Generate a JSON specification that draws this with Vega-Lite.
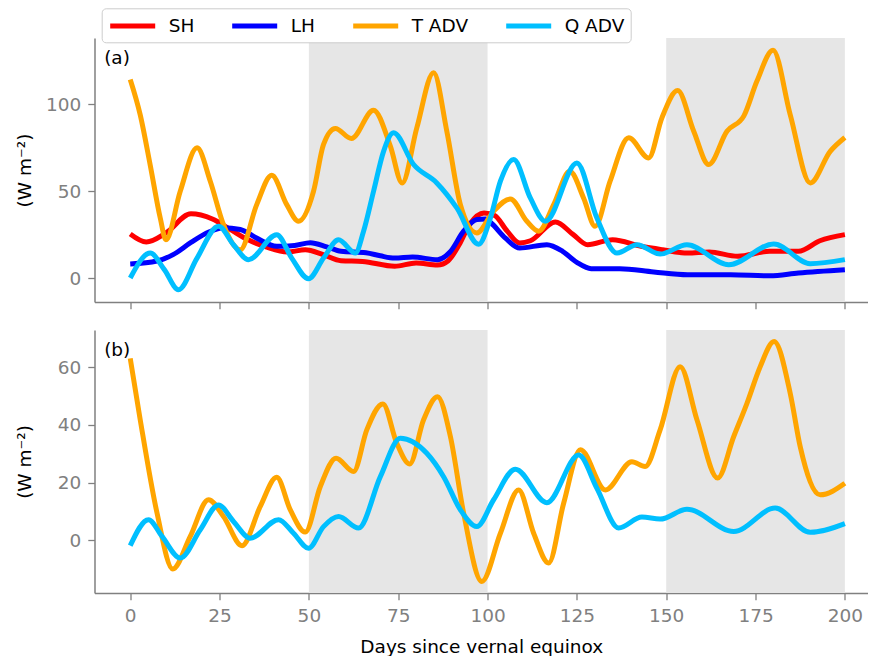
{
"$schema":"https://vega.github.io/schema/vega-lite/v6.json",
"padding":{"left":15.5,"top":7,"right":0,"bottom":0},
"config":{"font":"DejaVu Sans","view":{"stroke":null},"axis":{"grid":false,"domainColor":"#808080","domainWidth":1.5,"tickColor":"#808080","tickWidth":1.3,"tickSize":6.7,"labelColor":"#808080","labelFontSize":18.5,"labelFont":"DejaVu Sans","titleFont":"DejaVu Sans","titleFontSize":18.5,"titleFontWeight":"normal","titleColor":"black"}},
"spacing":20,
"resolve":{"legend":{"color":"independent"}},
"datasets":{
"shade":[{"day":50,"day2":100},{"day":150,"day2":200}],
"a":[
{"series":"SH","day":0,"value":25.4},{"series":"SH","day":4.5,"value":20.8},{"series":"SH","day":10,"value":26},{"series":"SH","day":17,"value":37},{"series":"SH","day":23,"value":34},{"series":"SH","day":28,"value":28},{"series":"SH","day":33,"value":22},{"series":"SH","day":38,"value":18},{"series":"SH","day":44,"value":15},{"series":"SH","day":49,"value":16.3},{"series":"SH","day":54,"value":13.5},{"series":"SH","day":59,"value":10},{"series":"SH","day":65,"value":9.6},{"series":"SH","day":74,"value":6.8},{"series":"SH","day":80,"value":8.7},{"series":"SH","day":86,"value":7.5},{"series":"SH","day":89,"value":10},{"series":"SH","day":92,"value":19},{"series":"SH","day":95,"value":31},{"series":"SH","day":99,"value":37.5},{"series":"SH","day":102,"value":36},{"series":"SH","day":105.5,"value":27},{"series":"SH","day":109,"value":20.2},{"series":"SH","day":112,"value":21.5},{"series":"SH","day":119,"value":32.3},{"series":"SH","day":124,"value":25},{"series":"SH","day":128,"value":19.2},{"series":"SH","day":135,"value":22.1},{"series":"SH","day":143,"value":18.3},{"series":"SH","day":149,"value":16.3},{"series":"SH","day":156,"value":14.4},{"series":"SH","day":162,"value":15},{"series":"SH","day":170,"value":12.5},{"series":"SH","day":179,"value":15.5},{"series":"SH","day":187,"value":15.4},{"series":"SH","day":193,"value":21.5},{"series":"SH","day":200,"value":25},
{"series":"LH","day":0,"value":8.1},{"series":"LH","day":7.5,"value":9.8},{"series":"LH","day":12,"value":13.5},{"series":"LH","day":17,"value":20.5},{"series":"LH","day":22,"value":26.5},{"series":"LH","day":26,"value":29},{"series":"LH","day":30.8,"value":28},{"series":"LH","day":35.4,"value":23},{"series":"LH","day":41,"value":18.3},{"series":"LH","day":46,"value":18.8},{"series":"LH","day":50.4,"value":20.4},{"series":"LH","day":55,"value":18},{"series":"LH","day":59,"value":15.4},{"series":"LH","day":66,"value":14.6},{"series":"LH","day":70,"value":12.8},{"series":"LH","day":74,"value":11.5},{"series":"LH","day":79,"value":12.1},{"series":"LH","day":86,"value":10.6},{"series":"LH","day":89.5,"value":15},{"series":"LH","day":93.3,"value":27},{"series":"LH","day":97,"value":33.7},{"series":"LH","day":99.5,"value":34},{"series":"LH","day":101,"value":31.7},{"series":"LH","day":105,"value":23},{"series":"LH","day":109,"value":17.3},{"series":"LH","day":116.6,"value":19.2},{"series":"LH","day":121,"value":15.4},{"series":"LH","day":125,"value":9},{"series":"LH","day":129,"value":5.4},{"series":"LH","day":137,"value":5.4},{"series":"LH","day":146.5,"value":3.5},{"series":"LH","day":156,"value":1.9},{"series":"LH","day":168,"value":1.9},{"series":"LH","day":179,"value":1.3},{"series":"LH","day":187,"value":2.9},{"series":"LH","day":200,"value":4.8},
{"series":"T ADV","day":0,"value":114.4},{"series":"T ADV","day":2.8,"value":94},{"series":"T ADV","day":5.6,"value":65},{"series":"T ADV","day":8.4,"value":34.6},{"series":"T ADV","day":10,"value":22},{"series":"T ADV","day":14,"value":50},{"series":"T ADV","day":18.7,"value":75},{"series":"T ADV","day":22.4,"value":55.8},{"series":"T ADV","day":26.1,"value":30.8},{"series":"T ADV","day":30.8,"value":16.3},{"series":"T ADV","day":35.4,"value":42.3},{"series":"T ADV","day":39.6,"value":59.2},{"series":"T ADV","day":43.8,"value":42.3},{"series":"T ADV","day":47.1,"value":32.7},{"series":"T ADV","day":51.3,"value":50},{"series":"T ADV","day":54.1,"value":77},{"series":"T ADV","day":57.4,"value":86.2},{"series":"T ADV","day":61.9,"value":80.4},{"series":"T ADV","day":68.1,"value":96.7},{"series":"T ADV","day":72.8,"value":76},{"series":"T ADV","day":76.1,"value":54.8},{"series":"T ADV","day":80.2,"value":86.5},{"series":"T ADV","day":84.9,"value":118.3},{"series":"T ADV","day":88.6,"value":84.6},{"series":"T ADV","day":92.4,"value":42.3},{"series":"T ADV","day":97,"value":26},{"series":"T ADV","day":101.7,"value":38.5},{"series":"T ADV","day":106.4,"value":45.6},{"series":"T ADV","day":111,"value":32.7},{"series":"T ADV","day":114.3,"value":27},{"series":"T ADV","day":118.5,"value":42.3},{"series":"T ADV","day":123,"value":61.5},{"series":"T ADV","day":126.9,"value":46},{"series":"T ADV","day":130.1,"value":29.8},{"series":"T ADV","day":134.3,"value":55.8},{"series":"T ADV","day":139.5,"value":80.8},{"series":"T ADV","day":145.1,"value":69.2},{"series":"T ADV","day":148.8,"value":92.3},{"series":"T ADV","day":153.2,"value":108},{"series":"T ADV","day":157.7,"value":84.6},{"series":"T ADV","day":161.9,"value":65.4},{"series":"T ADV","day":167,"value":84.6},{"series":"T ADV","day":171.7,"value":93.3},{"series":"T ADV","day":175.4,"value":113.5},{"series":"T ADV","day":179.9,"value":131.2},{"series":"T ADV","day":184.7,"value":94.2},{"series":"T ADV","day":190.3,"value":54.8},{"series":"T ADV","day":195.9,"value":73},{"series":"T ADV","day":200,"value":81},
{"series":"Q ADV","day":0,"value":0},{"series":"Q ADV","day":5.6,"value":14.4},{"series":"Q ADV","day":9.5,"value":5},{"series":"Q ADV","day":13.5,"value":-6.7},{"series":"Q ADV","day":18.7,"value":11.5},{"series":"Q ADV","day":24.7,"value":29.8},{"series":"Q ADV","day":28.9,"value":19.2},{"series":"Q ADV","day":33.1,"value":10.6},{"series":"Q ADV","day":41,"value":25},{"series":"Q ADV","day":45.2,"value":11.5},{"series":"Q ADV","day":49.9,"value":-0.4},{"series":"Q ADV","day":54.1,"value":11.5},{"series":"Q ADV","day":58.3,"value":22.1},{"series":"Q ADV","day":63,"value":14.4},{"series":"Q ADV","day":65.3,"value":27},{"series":"Q ADV","day":68.1,"value":50},{"series":"Q ADV","day":70.9,"value":73},{"series":"Q ADV","day":73.7,"value":83.7},{"series":"Q ADV","day":79.3,"value":65.4},{"series":"Q ADV","day":85.8,"value":54.8},{"series":"Q ADV","day":91.4,"value":40.4},{"series":"Q ADV","day":97.5,"value":19.5},{"series":"Q ADV","day":100.8,"value":34.6},{"series":"Q ADV","day":103.6,"value":55.8},{"series":"Q ADV","day":107.3,"value":68.3},{"series":"Q ADV","day":112,"value":46},{"series":"Q ADV","day":116.2,"value":32.7},{"series":"Q ADV","day":125,"value":66.3},{"series":"Q ADV","day":130.6,"value":34.6},{"series":"Q ADV","day":136.2,"value":14.4},{"series":"Q ADV","day":141.8,"value":19.2},{"series":"Q ADV","day":148.3,"value":13.8},{"series":"Q ADV","day":155.8,"value":19.2},{"series":"Q ADV","day":167.5,"value":7.7},{"series":"Q ADV","day":180.1,"value":19.6},{"series":"Q ADV","day":190.3,"value":8.3},{"series":"Q ADV","day":200,"value":10.6}
],
"b":[
{"series":"T ADV","day":0,"value":63.1},{"series":"T ADV","day":2.8,"value":41.8},{"series":"T ADV","day":7.5,"value":9.5},{"series":"T ADV","day":11.9,"value":-9.9},{"series":"T ADV","day":16.8,"value":1.4},{"series":"T ADV","day":21.9,"value":14.1},{"series":"T ADV","day":26.1,"value":8.3},{"series":"T ADV","day":31.3,"value":-1.8},{"series":"T ADV","day":36.4,"value":11.8},{"series":"T ADV","day":41,"value":21.9},{"series":"T ADV","day":44.8,"value":10.6},{"series":"T ADV","day":49,"value":2.9},{"series":"T ADV","day":53.2,"value":18.7},{"series":"T ADV","day":57.6,"value":28.5},{"series":"T ADV","day":62.5,"value":23.9},{"series":"T ADV","day":66.2,"value":38.3},{"series":"T ADV","day":70.7,"value":47.3},{"series":"T ADV","day":74.6,"value":33.7},{"series":"T ADV","day":78.2,"value":26.5},{"series":"T ADV","day":82.1,"value":41.8},{"series":"T ADV","day":86,"value":49.8},{"series":"T ADV","day":89.6,"value":36},{"series":"T ADV","day":93.3,"value":9.5},{"series":"T ADV","day":98.4,"value":-14.2},{"series":"T ADV","day":103.6,"value":2.5},{"series":"T ADV","day":108.7,"value":17.5},{"series":"T ADV","day":112.9,"value":2.5},{"series":"T ADV","day":117.1,"value":-7.8},{"series":"T ADV","day":121.3,"value":12.9},{"series":"T ADV","day":126,"value":31.4},{"series":"T ADV","day":133,"value":17.5},{"series":"T ADV","day":140.4,"value":27.3},{"series":"T ADV","day":144.1,"value":25.6},{"series":"T ADV","day":148.3,"value":38.3},{"series":"T ADV","day":153.9,"value":60.2},{"series":"T ADV","day":158.6,"value":41.8},{"series":"T ADV","day":164.4,"value":21.6},{"series":"T ADV","day":168.9,"value":36},{"series":"T ADV","day":172.6,"value":47.5},{"series":"T ADV","day":176.3,"value":60.2},{"series":"T ADV","day":180.2,"value":68.9},{"series":"T ADV","day":184.7,"value":51},{"series":"T ADV","day":187.5,"value":32.5},{"series":"T ADV","day":193.1,"value":15.8},{"series":"T ADV","day":200,"value":19.8},
{"series":"Q ADV","day":0,"value":-1.8},{"series":"Q ADV","day":5.1,"value":7.2},{"series":"Q ADV","day":8.9,"value":1.4},{"series":"Q ADV","day":14,"value":-6.1},{"series":"Q ADV","day":19.6,"value":3.7},{"series":"Q ADV","day":24.7,"value":12.3},{"series":"Q ADV","day":28.9,"value":6.6},{"series":"Q ADV","day":33.6,"value":0.8},{"series":"Q ADV","day":41.5,"value":7.2},{"series":"Q ADV","day":45.7,"value":2.5},{"series":"Q ADV","day":49.9,"value":-2.7},{"series":"Q ADV","day":54.1,"value":4.8},{"series":"Q ADV","day":58.3,"value":8.3},{"series":"Q ADV","day":63.9,"value":4.3},{"series":"Q ADV","day":70,"value":22.1},{"series":"Q ADV","day":75.6,"value":35.4},{"series":"Q ADV","day":83,"value":30.2},{"series":"Q ADV","day":87.7,"value":22.1},{"series":"Q ADV","day":92.4,"value":10.6},{"series":"Q ADV","day":97,"value":4.8},{"series":"Q ADV","day":101.7,"value":14.1},{"series":"Q ADV","day":107.8,"value":24.7},{"series":"Q ADV","day":116.6,"value":13.1},{"series":"Q ADV","day":125.5,"value":29.6},{"series":"Q ADV","day":130.6,"value":18.1},{"series":"Q ADV","day":136.7,"value":4.3},{"series":"Q ADV","day":143.2,"value":8.1},{"series":"Q ADV","day":148.3,"value":7.4},{"series":"Q ADV","day":155.8,"value":10.8},{"series":"Q ADV","day":168.9,"value":3.1},{"series":"Q ADV","day":180.5,"value":11.2},{"series":"Q ADV","day":190.3,"value":2.8},{"series":"Q ADV","day":200,"value":5.8}
],
"labA":[{"label":"(a)","day":-7.3,"value":126.8}],
"labB":[{"label":"(b)","day":-7.3,"value":66}]
},
"vconcat":[
{"width":773.6,"height":264,
"encoding":{"x":{"field":"day","type":"quantitative","scale":{"domain":[-10,206.5],"nice":false,"zero":false},"axis":{"values":[0,25,50,75,100,125,150,175,200],"labels":false,"title":null}}},
"layer":[
{"data":{"name":"shade"},"mark":{"type":"rect","color":"#e6e6e6"},"encoding":{"x2":{"field":"day2"}}},
{"data":{"name":"a"},"mark":{"type":"line","interpolate":"monotone","strokeWidth":5},
"encoding":{
"y":{"field":"value","type":"quantitative","scale":{"domain":[-13.8,138.3],"nice":false,"zero":false},"axis":{"values":[0,50,100],"title":"(W m⁻²)","titleX":-63.5,"titleY":132,"titleAngle":-90,"titleAlign":"center","titleBaseline":"alphabetic","labelPadding":7}},
"color":{"field":"series","type":"nominal","sort":null,"scale":{"domain":["SH","LH","T ADV","Q ADV"],"range":["#ff0000","#0000ff","#ffa500","#00bfff"]},
"legend":{"orient":"none","legendX":7.2,"legendY":-29.7,"direction":"horizontal","columns":4,"title":null,"symbolType":"M-1,0L4,0","symbolSize":324,"symbolStrokeWidth":5,"symbolOpacity":1,"labelFontSize":18.5,"labelColor":"black","labelFont":"DejaVu Sans","labelOffset":38,"columnPadding":27,"padding":6,"fillColor":"white","strokeColor":"#cccccc","cornerRadius":4}}
}},
{"data":{"name":"labA"},"mark":{"type":"text","align":"left","baseline":"middle","fontSize":18.5,"color":"black"},
"encoding":{"y":{"field":"value","type":"quantitative","scale":{"domain":[-13.8,138.3],"nice":false,"zero":false},"axis":{"values":[0,50,100],"title":"(W m⁻²)","titleX":-63.5,"titleY":132,"titleAngle":-90,"titleAlign":"center","titleBaseline":"alphabetic","labelPadding":7}},"text":{"field":"label"}}}
]},
{"width":773.6,"height":263,
"encoding":{"x":{"field":"day","type":"quantitative","scale":{"domain":[-10,206.5],"nice":false,"zero":false},"axis":{"values":[0,25,50,75,100,125,150,175,200],"title":"Days since vernal equinox","labelPadding":7,"titlePadding":12}}},
"layer":[
{"data":{"name":"shade"},"mark":{"type":"rect","color":"#e6e6e6"},"encoding":{"x2":{"field":"day2"}}},
{"data":{"name":"b"},"mark":{"type":"line","interpolate":"monotone","strokeWidth":5},
"encoding":{
"y":{"field":"value","type":"quantitative","scale":{"domain":[-18.2,72.9],"nice":false,"zero":false},"axis":{"values":[0,20,40,60],"title":"(W m⁻²)","titleX":-63.5,"titleY":131.5,"titleAngle":-90,"titleAlign":"center","titleBaseline":"alphabetic","labelPadding":7}},
"color":{"field":"series","type":"nominal","sort":null,"scale":{"domain":["SH","LH","T ADV","Q ADV"],"range":["#ff0000","#0000ff","#ffa500","#00bfff"]},"legend":null}
}},
{"data":{"name":"labB"},"mark":{"type":"text","align":"left","baseline":"middle","fontSize":18.5,"color":"black"},
"encoding":{"y":{"field":"value","type":"quantitative","scale":{"domain":[-18.2,72.9],"nice":false,"zero":false},"axis":{"values":[0,20,40,60],"title":"(W m⁻²)","titleX":-63.5,"titleY":131.5,"titleAngle":-90,"titleAlign":"center","titleBaseline":"alphabetic","labelPadding":7}},"text":{"field":"label"}}}
]}
]
}
